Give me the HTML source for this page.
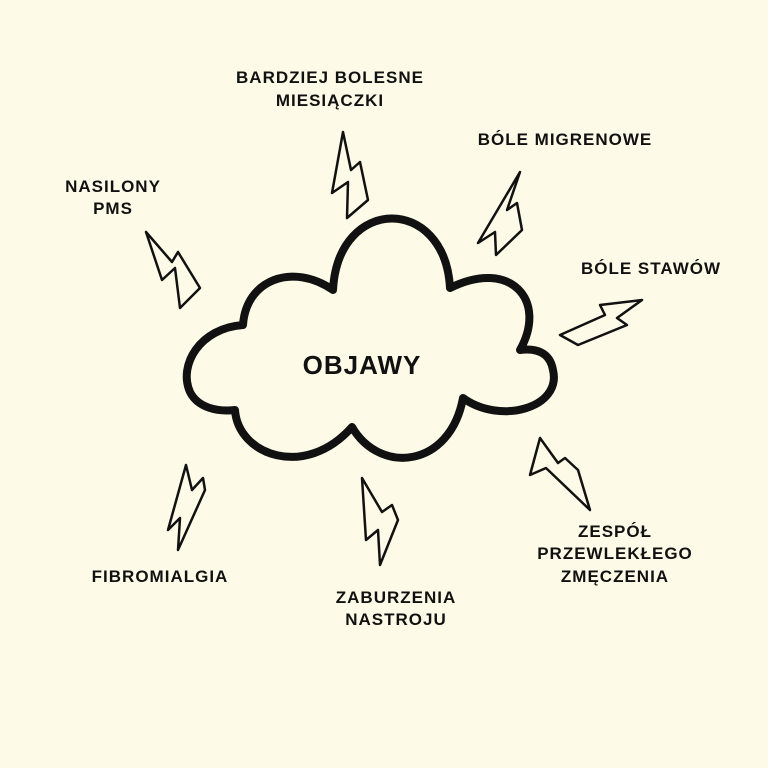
<!DOCTYPE html>
<html><head><meta charset="utf-8"><style>
html,body{margin:0;padding:0;background:#fdfbe8;}
svg{display:block}
text{font-family:"Liberation Sans","DejaVu Sans",sans-serif;font-weight:bold;fill:#111;text-anchor:middle;letter-spacing:1px;font-size:17px}
</style></head><body>
<svg width="768" height="768" viewBox="0 0 768 768">
<rect width="768" height="768" fill="#fdfbe8"/>
<path d="M243,325 C200,328 178,365 190,392 C198,408 218,412 235,410 C238,455 305,480 352,427 C380,475 450,468 463,398 C500,425 562,408 553,370 C550,352 536,348 520,350 C548,300 510,258 450,288 C445,195 338,195 333,290 C292,262 246,280 243,325 Z" fill="#fdfbe8" stroke="#111" stroke-width="8" stroke-linejoin="round"/>
<g fill="none" stroke="#111" stroke-width="2.5" stroke-linejoin="round">
<polygon points="343,132 332,193 348,182 347,218 368,200 360,162 351,170"/>
<polygon points="520,172 478,243 495,232 496,255 522,230 517,203 507,210"/>
<polygon points="642,300 600,305 605,315 560,335 578,345 627,325 617,318"/>
<polygon points="146,232 162,280 175,268 180,308 200,288 178,252 172,262"/>
<polygon points="186,465 168,530 180,518 178,550 205,490 203,478 192,490"/>
<polygon points="362,478 366,540 378,530 380,565 398,520 392,505 382,512"/>
<polygon points="540,438 530,475 546,468 590,510 578,470 565,458 558,463"/>
</g>
<text x="330" y="83">BARDZIEJ BOLESNE</text>
<text x="330" y="106">MIESIĄCZKI</text>
<text x="565" y="145">BÓLE MIGRENOWE</text>
<text x="651" y="274">BÓLE STAWÓW</text>
<text x="113" y="192">NASILONY</text>
<text x="113" y="214">PMS</text>
<text x="362" y="374" style="font-size:26px">OBJAWY</text>
<text x="160" y="582">FIBROMIALGIA</text>
<text x="396" y="603">ZABURZENIA</text>
<text x="396" y="625">NASTROJU</text>
<text x="615" y="537">ZESPÓŁ</text>
<text x="615" y="559">PRZEWLEKŁEGO</text>
<text x="615" y="582">ZMĘCZENIA</text>
</svg>
</body></html>
